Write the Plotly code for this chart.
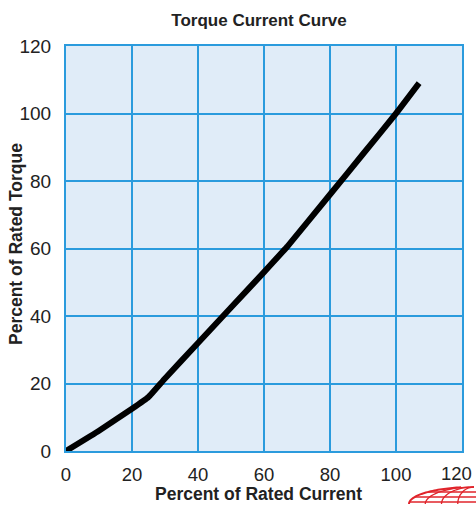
import numpy as np
import plotly.graph_objects as go

current = [0, 10, 20, 25, 30, 40, 50, 60, 67, 80, 90, 100, 107]
torque = [0, 6, 12.5, 16, 21.5, 32, 42.5, 53, 60.5, 76, 88, 100, 109]
tick_vals = [0, 20, 40, 60, 80, 100, 120]
x_tick_text = ["0", "20", "40", "60", "80", "100", ""]
last_x_tick = "120"

FONT = "Liberation Sans, Arial, sans-serif"
GRID = "#2B9BDD"
TXT = "#222222"


def px(x):
    return (x - 66) / 396


def py(y):
    return (451 - y) / 405


fig = go.Figure()
fig.add_trace(go.Scatter(x=current, y=torque, mode="lines",
                         line=dict(color="black", width=6, shape="spline", smoothing=0.3),
                         hoverinfo="skip", showlegend=False))

fig.update_layout(
    width=476, height=506,
    margin=dict(l=66, r=14, t=46, b=55, autoexpand=False),
    paper_bgcolor="white", plot_bgcolor="#E0ECF8",
    title=dict(text="<b>Torque Current Curve</b>", x=259 / 476, xanchor="center",
               y=1 - 20 / 506, yanchor="middle",
               font=dict(family=FONT, size=17, color=TXT)),
    font=dict(family=FONT, color=TXT),
)
fig.update_xaxes(range=[0, 120], tickvals=tick_vals, ticktext=x_tick_text,
                 showgrid=True, gridcolor=GRID, gridwidth=2,
                 zeroline=False, showline=True, linecolor=GRID, linewidth=2, mirror=True,
                 automargin=False, ticks="", ticklabelstandoff=6, ticklabeloverflow="allow",
                 tickfont=dict(size=18.5, family=FONT, color=TXT))
fig.update_yaxes(range=[0, 120], tickvals=tick_vals, showgrid=True, gridcolor=GRID, gridwidth=2,
                 zeroline=False, showline=True, linecolor=GRID, linewidth=2, mirror=True,
                 automargin=False, ticks="", ticklabelstandoff=9, ticklabeloverflow="allow",
                 tickfont=dict(size=19, family=FONT, color=TXT))

# last x tick label, nudged left so it stays inside the page
fig.add_annotation(text=last_x_tick, xref="paper", yref="paper",
                   x=px(474), y=py(474), xanchor="right", yanchor="middle", showarrow=False,
                   font=dict(size=18.5, family=FONT, color=TXT))

fig.add_annotation(text="<b>Percent of Rated Current</b>", xref="paper", yref="paper",
                   x=px(258), y=py(494), xanchor="center", yanchor="middle", showarrow=False,
                   font=dict(size=17.5, family=FONT, color=TXT))
fig.add_annotation(text="<b>Percent of Rated Torque</b>", xref="paper", yref="paper",
                   x=px(16), y=py(244), xanchor="center", yanchor="middle", showarrow=False,
                   textangle=-90, font=dict(size=17.5, family=FONT, color=TXT))

# partial red globe logo in lower right corner
red = "#E0242B"
cx, cy, rx, ry = 474, 504, 65, 17


def arc_path(pts):
    return "M " + " L ".join(f"{px(x):.4f} {py(y):.4f}" for x, y in pts)


t = np.linspace(np.pi, np.pi / 2 + 0.2, 40)
dome = [(cx + rx * np.cos(a), cy - ry * np.sin(a)) for a in t]
fig.add_shape(type="path", xref="paper", yref="paper", path=arc_path(dome),
              line=dict(color=red, width=2))
for yy in [492, 497, 502]:
    h = (cy - yy) / ry
    w = rx * np.sqrt(max(0, 1 - h * h))
    fig.add_shape(type="path", xref="paper", yref="paper",
                  path=arc_path([(cx - w, yy), (476, yy)]),
                  line=dict(color=red, width=1.3))
for k in [0.25, 0.5, 0.75]:
    t2 = np.linspace(np.pi, np.pi / 2, 20)
    pts = [(cx + rx * k * np.cos(a), cy - ry * np.sin(a)) for a in t2]
    fig.add_shape(type="path", xref="paper", yref="paper", path=arc_path(pts),
                  line=dict(color=red, width=1.3))

fig.write_html("out.html", config={"displayModeBar": False},
               post_script="document.body.style.margin='0';")
